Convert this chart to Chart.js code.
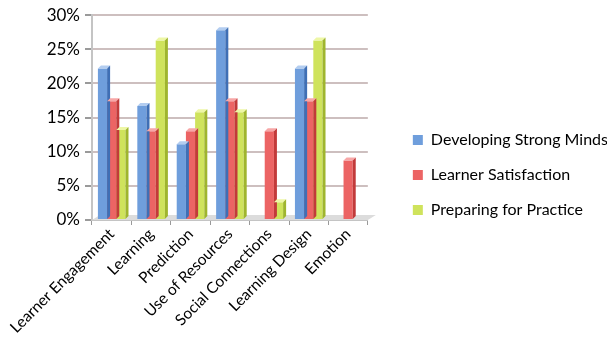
<!DOCTYPE html>
<html>
<head>
<meta charset="utf-8">
<script src="https://cdn.jsdelivr.net/npm/chart.js@4/dist/chart.umd.min.js"></script>
<style>
  html, body { margin: 0; padding: 0; background: #fff; }
  #wrap { width: 607px; height: 351px; }
</style>
</head>
<body>
<div id="wrap"><canvas id="grafico"></canvas></div>
<script>
// categorias y valores (porcentaje)
const categorias = ["Learner Engagement", "Learning", "Prediction", "Use of Resources", "Social Connections", "Learning Design", "Emotion"];
const strongMinds = [22.2, 16.7, 11.1, 27.8, 0, 22.2, 0];
const satisfaction = [17.4, 13.0, 13.0, 17.4, 13.0, 17.4, 8.7];
const practice = [13.2, 26.3, 15.8, 15.8, 2.6, 26.3, 0];
const ticksY = [0, 5, 10, 15, 20, 25, 30];

const fuente = "Lato, 'Open Sans', sans-serif";
const colores = ["#6f9edc", "#ec6464", "#cfe35c"];
const claros = ["#b3cdf0", "#f7a7a7", "#eef7a6"];
const oscuros = ["#3f6fb5", "#c23a3a", "#9fb52e"];

// degradado horizontal para cada barra
const degradado = (i) => (ctx) => {
  const el = ctx.element;
  if (!el || !ctx.chart.chartArea) return colores[i];
  const { x, width } = el.getProps(["x", "width"], true);
  if (!width) return colores[i];
  const g = ctx.chart.ctx.createLinearGradient(x - width / 2, 0, x + width / 2, 0);
  g.addColorStop(0, colores[i]);
  g.addColorStop(0.3, claros[i]);
  g.addColorStop(1, colores[i]);
  return g;
};

// dibuja piso, cara superior y lateral de cada barra (efecto 3D)
const profundidad = {
  id: "profundidad",
  beforeDatasetsDraw(chart) {
    const { ctx, chartArea } = chart;
    const y0 = chart.scales.y.getPixelForValue(0);
    ctx.save();
    ctx.fillStyle = "#dcdcdc";
    ctx.beginPath();
    ctx.moveTo(chartArea.left, y0);
    ctx.lineTo(chartArea.left + 8, y0 - 5);
    ctx.lineTo(chartArea.right + 8, y0 - 5);
    ctx.lineTo(chartArea.right, y0);
    ctx.closePath();
    ctx.fill();
    ctx.restore();
  },
  afterDatasetsDraw(chart) {
    const { ctx } = chart;
    ctx.save();
    chart.data.datasets.forEach((ds, i) => {
      chart.getDatasetMeta(i).data.forEach((bar, j) => {
        if (!ds.data[j]) return;
        const { x, y, width, base } = bar.getProps(["x", "y", "width", "base"], true);
        const l = x - width / 2, r = x + width / 2, d = 3;
        ctx.fillStyle = claros[i];
        ctx.beginPath();
        ctx.moveTo(l, y);
        ctx.lineTo(l + d, y - d);
        ctx.lineTo(r + d, y - d);
        ctx.lineTo(r, y);
        ctx.closePath();
        ctx.fill();
        ctx.fillStyle = oscuros[i];
        ctx.beginPath();
        ctx.moveTo(r, y);
        ctx.lineTo(r + d, y - d);
        ctx.lineTo(r + d, base - d);
        ctx.lineTo(r, base);
        ctx.closePath();
        ctx.fill();
      });
    });
    ctx.restore();
  },
};

const crearGrafico = () => new Chart(document.getElementById("grafico"), {
  type: "bar",
  data: {
    labels: categorias,
    datasets: [
      { label: "Developing Strong Minds", data: strongMinds, backgroundColor: degradado(0) },
      { label: "Learner Satisfaction", data: satisfaction, backgroundColor: degradado(1) },
      { label: "Preparing for Practice", data: practice, backgroundColor: degradado(2) },
    ],
  },
  plugins: [profundidad],
  options: {
    responsive: true,
    maintainAspectRatio: false,
    animation: false,
    layout: { padding: { top: 12, right: -11, left: 0, bottom: 13 } },
    datasets: {
      bar: { categoryPercentage: 0.7, barPercentage: 1.0 },
    },
    scales: {
      x: {
        afterFit: (s) => { s.height = 118; },
        grid: { display: true, drawOnChartArea: false, color: "#9a9a9a", tickLength: 5, offset: true },
        border: { color: "#c4c4c4", width: 2 },
        ticks: {
          color: "#000",
          font: { family: fuente, size: 15.5 },
          minRotation: 45,
          maxRotation: 45,
          padding: 0,
        },
      },
      y: {
        min: 0,
        max: 30,
        afterFit: (s) => { s.width = 92; },
        afterBuildTicks: (scale) => {
          scale.ticks = ticksY.map((v) => ({ value: v }));
        },
        grid: { color: "#cdbfbf", lineWidth: 2, tickLength: 7, tickColor: "#9a9a9a" },
        border: { color: "#c4c4c4", width: 2 },
        ticks: {
          color: "#000",
          font: { family: fuente, size: 17 },
          padding: 5,
          callback: (v) => v + "%",
        },
      },
      // eje vacio que deja el espacio entre el grafico y la leyenda
      margen: {
        type: "linear",
        position: "right",
        afterFit: (s) => { s.width = 26; },
        grid: { display: false },
        border: { display: false },
        ticks: { display: false },
      },
    },
    plugins: {
      legend: {
        position: "right",
        align: "center",
        maxWidth: 260,
        labels: {
          color: "#000",
          font: { family: fuente, size: 16 },
          boxWidth: 10,
          boxHeight: 10,
          padding: 19,
          generateLabels: (chart) =>
            chart.data.datasets.map((ds, i) => ({
              text: ds.label,
              fillStyle: colores[i],
              strokeStyle: colores[i],
              lineWidth: 0,
              datasetIndex: i,
              fontColor: "#000",
            })),
        },
      },
      tooltip: { enabled: false },
    },
  },
});

// espera la fuente para medir bien los textos
document.fonts.load("17px Lato").then(crearGrafico, crearGrafico);
</script>
</body>
</html>
